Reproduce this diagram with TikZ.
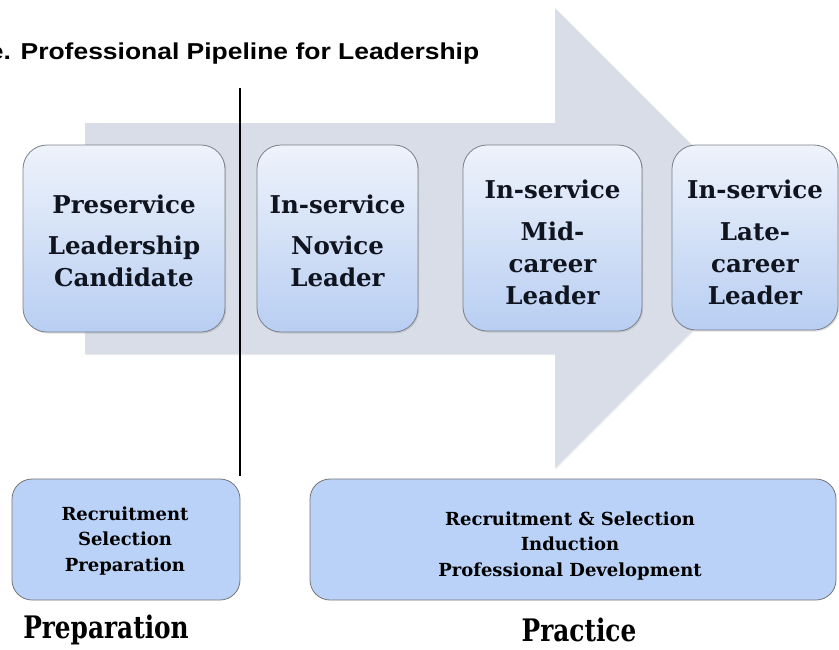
\documentclass[tikz,border=0pt]{standalone}
\usepackage{fontspec}
\setmainfont{DejaVu Serif}
\newfontfamily\titlefont{Liberation Sans}[FakeStretch=1.15]
\newfontfamily\labelfont{DejaVu Serif}[FakeStretch=0.8]
\usetikzlibrary{shadows}
\definecolor{arrowfill}{HTML}{D8DDE7}
\definecolor{boxtop}{HTML}{EEF3FB}
\definecolor{boxbot}{HTML}{B8CEF2}
\definecolor{boxedge}{HTML}{7A808A}
\definecolor{flatfill}{HTML}{BAD2F7}
\definecolor{flatedge}{HTML}{767676}
\definecolor{inktext}{HTML}{10141F}
\begin{document}
\begin{tikzpicture}[x=1pt,y=-1pt,
  stagebox/.style={draw=boxedge, line width=0.8pt, rounded corners=24pt,
    top color=boxtop, bottom color=boxbot, inner sep=0pt,
    drop shadow={opacity=0.25, shadow xshift=1.2pt, shadow yshift=-1.5pt}},
  stagetext/.style={align=center, inner sep=0pt, text=inktext,
    font=\bfseries\fontsize{24.5}{32}\selectfont},
  flatbox/.style={draw=flatedge, line width=0.8pt, rounded corners=20pt,
    fill=flatfill, inner sep=0pt},
  flattext/.style={align=center, inner sep=0pt, text=black,
    font=\bfseries\fontsize{18}{25.5}\selectfont},
  labeltext/.style={inner sep=0pt, text=black, font=\labelfont\bfseries\fontsize{31}{36}\selectfont},
  titletext/.style={inner sep=0pt, anchor=base west, text=black,
    font=\titlefont\bfseries\fontsize{23}{27}\selectfont}
]
\useasboundingbox (0,0) rectangle (839,649);
\fill[white] (0,0) rectangle (839,649);

% big arrow
\path[fill=arrowfill, drop shadow={opacity=0.15, shadow xshift=1pt, shadow yshift=-1pt}]
  (85,123) -- (555,123) -- (555,8) -- (785,238) -- (555,468) -- (555,354) -- (85,354) -- cycle;

% title
\node[titletext] (title) at (-11.4,59) {e. Professional Pipeline for Leadership};

% divider
\coordinate (divtop) at (240,88);
\coordinate (divbot) at (240,476);
\draw[line width=1.1pt] (divtop) -- (divbot);

% stage boxes
\node[stagebox, minimum width=202, minimum height=187] (s1) at (124,238.5) {};
\node[stagebox, minimum width=161, minimum height=187] (s2) at (337.5,238.5) {};
\node[stagebox, minimum width=179, minimum height=186] (s3) at (552.5,238) {};
\node[stagebox, minimum width=166, minimum height=185] (s4) at (755,237.5) {};

\node[stagetext] (t1) at (124,241) {Preservice\\[9pt]Leadership\\Candidate};
\node[stagetext] (t2) at (337.5,241) {In-service\\[9pt]Novice\\Leader};
\node[stagetext] (t3) at (552.5,242) {In-service\\[10pt]Mid-\\career\\Leader};
\node[stagetext] (t4) at (755,242) {In-service\\[10pt]Late-\\career\\Leader};

% bottom boxes
\node[flatbox, minimum width=228, minimum height=121] (pa) at (126,539.5) {};
\node[flatbox, minimum width=526, minimum height=121] (pb) at (573,539.5) {};
\node[flattext] (pat) at (125,541) {Recruitment\\Selection\\Preparation};
\node[flattext] (pbt) at (570,546) {Recruitment \& Selection\\Induction\\Professional Development};

% phase labels
\node[labeltext] (lprep) at (106,630) {Preparation};
\node[labeltext] (lprac) at (579,630) {Practice};
\end{tikzpicture}
\end{document}
